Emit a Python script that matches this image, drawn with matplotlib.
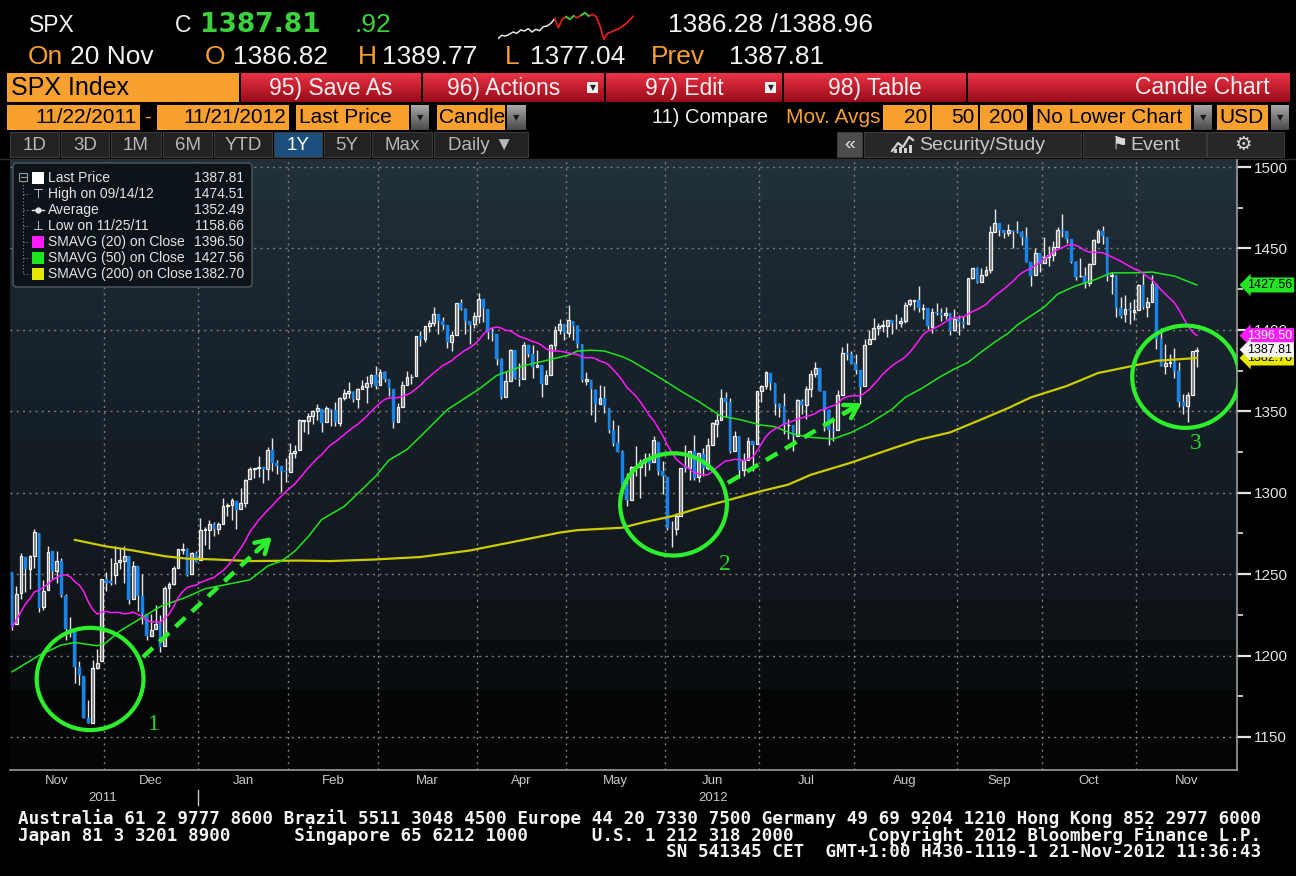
#!/usr/bin/env python3
# -*- coding: utf-8 -*-
"""
SPX Index daily candle chart (11/2011 - 11/2012) with 20/50/200-day SMAs,
laid out like a Bloomberg GP screen. Saves out.png (1296x876).
"""

import numpy as np
import pandas as pd
import matplotlib
matplotlib.use("Agg")
import matplotlib.pyplot as plt
from matplotlib import font_manager
from matplotlib.colors import to_rgb
from matplotlib.patches import Rectangle, FancyBboxPatch, Ellipse

# ---------------------------------------------------------------------------
# SPX daily OHLC, 2011-11-01 .. 2012-11-20, one line per month
# ---------------------------------------------------------------------------
opens = [
    1251.0, 1219.6, 1238.2, 1260.8, 1253.2, 1261.1, 1275.2, 1229.6, 1240.1, 1263.9, 1251.7, 1257.8, 1236.6, 1216.2, 1215.6, 1193.0, 1187.5, 1161.4, 1158.7, 1192.6, 1196.7,
    1246.9, 1246.0, 1249.5, 1257.2, 1258.1, 1260.9, 1234.5, 1255.1, 1236.8, 1225.7, 1212.1, 1216.1, 1219.7, 1205.7, 1241.3, 1243.7, 1254.0, 1265.0, 1265.4, 1249.8, 1262.8,
    1258.9, 1277.0, 1277.3, 1280.9, 1277.8, 1280.8, 1292.0, 1292.5, 1294.8, 1290.2, 1293.7, 1308.1, 1314.5, 1315.3, 1315.9, 1314.4, 1326.3, 1318.3, 1316.2, 1313.5,
    1312.5, 1324.2, 1326.2, 1344.3, 1344.3, 1347.0, 1350.0, 1351.2, 1343.1, 1351.3, 1350.5, 1342.6, 1358.1, 1361.2, 1362.1, 1357.5, 1363.5, 1365.2, 1367.6, 1372.2,
    1365.9, 1374.1, 1369.6, 1363.6, 1343.4, 1352.7, 1366.0, 1370.8, 1371.9, 1396.0, 1394.2, 1402.6, 1404.2, 1409.6, 1405.5, 1402.9, 1392.8, 1397.1, 1416.6, 1412.5, 1405.4, 1403.3,
    1408.5, 1419.0, 1413.1, 1398.8, 1397.5, 1382.2, 1359.0, 1368.8, 1387.6, 1370.3, 1369.6, 1390.8, 1385.1, 1377.0, 1378.5, 1367.0, 1372.1, 1390.6, 1400.2, 1403.3,
    1397.9, 1405.5, 1402.3, 1391.5, 1368.8, 1369.2, 1363.2, 1354.7, 1358.1, 1351.9, 1338.4, 1330.8, 1324.8, 1305.1, 1295.7, 1316.1, 1316.0, 1318.7, 1320.8, 1318.9, 1331.3, 1313.1,
    1309.9, 1278.3, 1277.8, 1285.6, 1316.2, 1315.0, 1325.7, 1309.4, 1324.0, 1314.9, 1329.2, 1342.4, 1344.8, 1358.0, 1355.4, 1325.9, 1334.9, 1314.1, 1320.0, 1331.5, 1330.1,
    1362.3, 1365.8, 1373.7, 1367.1, 1354.7, 1353.0, 1341.4, 1341.3, 1334.8, 1356.5, 1353.7, 1363.6, 1373.0, 1376.5, 1362.3, 1350.5, 1338.4, 1338.2, 1360.1, 1385.9, 1385.3,
    1379.3, 1375.1, 1365.5, 1391.0, 1394.5, 1401.2, 1402.3, 1402.6, 1405.9, 1404.4, 1403.9, 1405.6, 1415.8, 1417.9, 1418.1, 1413.1, 1413.5, 1402.0, 1411.1, 1410.4, 1409.3, 1410.1, 1400.1,
    1406.5, 1404.9, 1403.7, 1432.1, 1437.9, 1429.1, 1433.6, 1436.6, 1460.1, 1465.4, 1461.2, 1459.5, 1461.0, 1460.3, 1459.8, 1456.9, 1441.6, 1433.4, 1447.1,
    1440.9, 1445.0, 1446.1, 1451.1, 1461.4, 1460.9, 1455.9, 1441.5, 1432.8, 1432.8, 1428.8, 1440.3, 1454.2, 1460.9, 1457.3, 1433.2, 1433.7, 1413.2, 1409.7, 1413.0, 1411.0,
    1412.2, 1427.6, 1414.0, 1417.3, 1428.3, 1394.5, 1377.6, 1379.9, 1380.0, 1374.6, 1355.4, 1353.4, 1359.9, 1386.82,
]
highs = [
    1251.0, 1242.5, 1263.2, 1260.8, 1261.7, 1277.6, 1275.2, 1246.2, 1267.0, 1263.9, 1264.3, 1259.6, 1237.7, 1223.5, 1215.6, 1196.8, 1187.5, 1172.7, 1197.4, 1203.7, 1247.1,
    1251.1, 1260.1, 1267.1, 1266.0, 1267.1, 1260.9, 1258.3, 1255.1, 1249.9, 1225.7, 1225.6, 1231.0, 1224.6, 1242.8, 1245.1, 1255.2, 1265.4, 1269.4, 1265.9, 1263.5, 1264.1,
    1284.6, 1278.7, 1283.1, 1281.8, 1282.0, 1296.5, 1293.8, 1296.8, 1294.8, 1303.0, 1308.1, 1315.5, 1315.4, 1322.3, 1315.9, 1328.3, 1333.5, 1320.1, 1316.2, 1321.4,
    1330.5, 1329.2, 1345.3, 1344.4, 1349.2, 1351.0, 1354.3, 1351.2, 1353.4, 1351.3, 1355.9, 1359.0, 1363.4, 1367.8, 1362.7, 1364.2, 1368.9, 1371.9, 1373.1, 1378.0,
    1376.2, 1374.5, 1369.6, 1363.6, 1354.9, 1368.7, 1374.8, 1373.0, 1396.1, 1399.4, 1402.6, 1405.9, 1414.0, 1409.6, 1407.8, 1402.9, 1399.2, 1416.6, 1419.2, 1413.7, 1405.4, 1410.9,
    1422.4, 1419.0, 1413.1, 1401.6, 1397.5, 1383.0, 1374.7, 1388.1, 1387.6, 1379.7, 1392.8, 1390.8, 1390.5, 1387.4, 1378.5, 1375.6, 1391.4, 1402.1, 1406.6, 1403.3,
    1415.3, 1405.5, 1403.1, 1391.5, 1373.9, 1369.2, 1363.7, 1365.9, 1365.7, 1351.9, 1344.9, 1341.8, 1326.4, 1312.2, 1316.4, 1328.5, 1320.7, 1324.1, 1324.2, 1334.9, 1331.3, 1319.7,
    1309.9, 1282.6, 1287.6, 1315.1, 1329.0, 1325.8, 1335.5, 1324.3, 1327.3, 1333.7, 1343.3, 1348.2, 1363.5, 1361.6, 1358.3, 1337.8, 1334.9, 1324.2, 1334.4, 1331.5, 1362.2,
    1366.4, 1374.8, 1373.8, 1367.1, 1354.9, 1361.5, 1345.0, 1341.3, 1357.7, 1357.3, 1365.4, 1375.3, 1380.4, 1376.5, 1362.3, 1351.5, 1344.0, 1363.1, 1389.2, 1391.7, 1387.2,
    1385.0, 1375.1, 1394.2, 1399.6, 1407.1, 1404.1, 1406.0, 1406.0, 1405.9, 1410.0, 1407.7, 1417.4, 1418.7, 1418.1, 1426.7, 1416.1, 1413.5, 1413.5, 1416.2, 1413.6, 1414.0, 1410.1, 1413.1,
    1409.3, 1408.8, 1432.1, 1437.9, 1438.7, 1437.8, 1439.2, 1463.8, 1474.51, 1465.6, 1461.5, 1465.1, 1461.2, 1467.1, 1460.7, 1463.2, 1441.6, 1450.2, 1447.1,
    1457.1, 1451.5, 1454.3, 1463.1, 1471.0, 1460.9, 1455.9, 1442.5, 1443.9, 1438.4, 1441.3, 1455.5, 1462.2, 1464.0, 1457.3, 1435.5, 1433.7, 1420.0, 1421.1, 1417.1, 1418.8,
    1428.4, 1434.3, 1419.9, 1433.4, 1428.3, 1401.2, 1391.4, 1384.9, 1388.8, 1380.1, 1360.6, 1362.0, 1386.9, 1389.77,
]
lows = [
    1215.4, 1219.6, 1234.8, 1238.9, 1240.8, 1254.0, 1226.6, 1227.7, 1240.1, 1246.7, 1244.3, 1235.7, 1209.4, 1211.4, 1183.2, 1181.7, 1161.8, 1158.66, 1158.7, 1191.8, 1196.7,
    1239.7, 1243.4, 1244.0, 1253.0, 1244.8, 1231.5, 1234.5, 1227.3, 1219.4, 1209.5, 1212.1, 1216.1, 1202.4, 1205.7, 1229.5, 1243.1, 1254.0, 1262.3, 1248.6, 1249.8, 1257.5,
    1258.9, 1268.1, 1265.3, 1273.3, 1274.6, 1280.8, 1285.4, 1283.0, 1277.6, 1290.2, 1291.0, 1308.1, 1309.2, 1309.9, 1306.1, 1307.7, 1313.6, 1311.7, 1300.5, 1306.7,
    1312.5, 1321.6, 1326.2, 1337.5, 1335.9, 1341.9, 1344.6, 1337.4, 1343.1, 1340.8, 1340.8, 1341.2, 1357.2, 1358.1, 1355.5, 1352.3, 1363.5, 1354.9, 1365.0, 1363.8,
    1365.9, 1368.0, 1359.1, 1340.0, 1343.4, 1352.7, 1366.0, 1366.7, 1371.9, 1390.0, 1392.8, 1398.8, 1402.4, 1397.7, 1400.6, 1388.7, 1386.9, 1397.1, 1412.0, 1397.2, 1391.6, 1401.4,
    1404.5, 1404.6, 1394.1, 1392.9, 1378.2, 1357.4, 1359.0, 1368.8, 1369.9, 1365.4, 1369.6, 1383.3, 1370.3, 1377.0, 1358.8, 1366.8, 1372.1, 1387.4, 1397.7, 1394.0,
    1395.7, 1393.9, 1388.7, 1368.0, 1365.9, 1347.8, 1343.1, 1354.7, 1348.9, 1336.6, 1328.5, 1324.8, 1304.9, 1292.0, 1295.7, 1310.0, 1296.5, 1310.5, 1314.2, 1318.9, 1310.8, 1298.9,
    1277.3, 1266.7, 1274.2, 1285.6, 1312.7, 1307.8, 1307.7, 1306.6, 1310.5, 1314.1, 1329.2, 1334.5, 1344.8, 1346.5, 1324.4, 1325.9, 1309.3, 1310.3, 1320.0, 1313.3, 1330.1,
    1355.7, 1363.5, 1363.0, 1348.0, 1346.7, 1336.3, 1333.2, 1325.4, 1334.8, 1348.5, 1345.1, 1358.6, 1371.2, 1362.2, 1337.6, 1329.2, 1331.5, 1338.2, 1360.1, 1381.4, 1379.2,
    1373.1, 1354.7, 1365.5, 1391.0, 1394.5, 1396.6, 1398.8, 1395.6, 1397.3, 1400.6, 1401.8, 1404.2, 1414.7, 1412.1, 1410.9, 1406.8, 1400.5, 1398.0, 1409.1, 1405.6, 1406.6, 1397.0, 1399.0,
    1396.6, 1401.3, 1403.7, 1431.5, 1429.0, 1429.1, 1433.0, 1434.9, 1460.1, 1457.6, 1456.1, 1457.9, 1450.0, 1459.5, 1452.1, 1441.6, 1427.2, 1433.4, 1435.6,
    1440.9, 1439.0, 1442.0, 1451.1, 1456.9, 1453.1, 1441.2, 1430.6, 1432.3, 1425.5, 1427.2, 1440.3, 1453.3, 1452.6, 1429.9, 1422.1, 1407.6, 1407.1, 1405.1, 1403.3, 1406.0,
    1412.2, 1412.9, 1408.1, 1417.3, 1388.1, 1377.5, 1373.0, 1377.2, 1370.3, 1352.5, 1348.1, 1343.35, 1359.9, 1377.04,
]
closes = [
    1218.28, 1237.90, 1261.15, 1253.23, 1261.12, 1275.92, 1229.10, 1239.70, 1263.85, 1251.78, 1257.81, 1236.91, 1216.13, 1215.65, 1192.98, 1188.04, 1161.79, 1158.67, 1192.55, 1195.19, 1246.96,
    1244.58, 1244.28, 1257.08, 1258.47, 1261.01, 1234.35, 1255.19, 1236.47, 1225.73, 1211.82, 1215.75, 1219.66, 1205.35, 1241.30, 1243.72, 1254.00, 1265.33, 1265.43, 1249.64, 1263.02, 1257.60,
    1277.06, 1277.30, 1281.06, 1277.81, 1280.70, 1292.08, 1292.48, 1295.50, 1289.09, 1293.67, 1308.04, 1314.50, 1315.38, 1316.00, 1314.65, 1326.06, 1318.43, 1316.33, 1313.01, 1312.41,
    1324.09, 1325.54, 1344.90, 1344.33, 1347.05, 1349.96, 1351.95, 1342.64, 1351.77, 1350.50, 1343.23, 1358.04, 1361.23, 1362.21, 1357.66, 1363.46, 1365.74, 1367.59, 1372.18, 1365.68,
    1374.09, 1369.63, 1364.33, 1343.36, 1352.63, 1365.91, 1370.87, 1371.09, 1395.95, 1394.28, 1402.60, 1404.17, 1409.75, 1405.52, 1402.89, 1392.78, 1397.11, 1416.51, 1412.52, 1405.54, 1403.28, 1408.47,
    1419.04, 1413.38, 1398.96, 1398.08, 1382.20, 1358.59, 1368.71, 1387.57, 1370.26, 1369.57, 1390.78, 1385.14, 1376.92, 1378.53, 1366.94, 1371.97, 1390.69, 1399.98, 1403.36, 1397.91,
    1405.82, 1402.31, 1391.57, 1369.10, 1369.58, 1363.72, 1354.58, 1357.99, 1353.39, 1338.35, 1330.66, 1324.80, 1304.86, 1295.22, 1315.99, 1316.63, 1318.86, 1320.68, 1317.82, 1332.42, 1313.32, 1310.33,
    1278.04, 1278.18, 1285.50, 1315.13, 1314.99, 1325.66, 1308.93, 1324.18, 1314.88, 1329.10, 1342.84, 1344.78, 1357.98, 1355.69, 1325.51, 1335.02, 1313.72, 1319.99, 1331.85, 1329.04, 1362.16,
    1365.51, 1374.02, 1367.58, 1354.68, 1352.46, 1341.47, 1341.45, 1334.76, 1356.78, 1353.64, 1363.67, 1372.78, 1376.51, 1362.66, 1350.52, 1338.31, 1337.89, 1360.02, 1385.97, 1385.30, 1379.32,
    1375.32, 1365.00, 1390.99, 1394.23, 1401.35, 1402.22, 1402.80, 1405.87, 1404.11, 1403.93, 1405.53, 1415.51, 1418.16, 1418.13, 1413.17, 1413.49, 1402.08, 1411.13, 1410.44, 1409.30, 1410.49, 1399.48, 1406.58,
    1404.94, 1403.44, 1432.12, 1437.92, 1429.08, 1433.56, 1436.56, 1459.99, 1465.77, 1461.19, 1459.32, 1461.05, 1460.26, 1460.15, 1456.89, 1441.59, 1433.32, 1447.15, 1440.67,
    1444.49, 1445.75, 1450.99, 1461.40, 1460.93, 1455.88, 1441.48, 1432.56, 1432.84, 1428.59, 1440.13, 1454.92, 1460.91, 1457.34, 1433.19, 1433.82, 1413.11, 1408.75, 1412.97, 1411.94, 1412.16,
    1427.59, 1414.20, 1417.26, 1428.39, 1394.53, 1377.51, 1379.85, 1380.03, 1374.53, 1355.49, 1353.33, 1359.88, 1386.89, 1387.81,
]
# closes 2011-10-05 .. 2011-10-31, only used to warm up the 20-day average
closes_before = [1144.03, 1164.97, 1155.46, 1194.89, 1195.54, 1207.25, 1203.66, 1224.58, 1200.86, 1225.38,
                 1209.88, 1215.39, 1238.25, 1254.19, 1229.05, 1242.00, 1284.59, 1285.09, 1253.30]

# exchange holidays in the range (no candle)
holidays = ["2011-11-24", "2011-12-26", "2012-01-02", "2012-01-16", "2012-02-20", "2012-04-06",
            "2012-05-28", "2012-07-04", "2012-09-03", "2012-10-29", "2012-10-30"]

# 50 / 200 day averages (trading-day index, value)
sma50_idx = [0, 6, 11, 14, 19, 21, 24, 30, 33, 39, 43, 53, 57, 60, 63, 66, 69, 74, 78, 81, 84, 88, 91, 97, 104,
             108, 114, 118, 124, 126, 129, 132, 136, 138, 145, 149, 153, 158, 162, 167, 170, 174, 178, 183, 187,
             191, 196, 199, 203, 207, 210, 213, 216, 219, 222, 224, 230, 233, 237, 241, 245, 250, 254, 259, 264]
sma50_val = [1190, 1200, 1206.5, 1208, 1206, 1208, 1215, 1225, 1230, 1236, 1241, 1246.5, 1255, 1258, 1264, 1273,
             1283.5, 1291.5, 1302, 1310, 1320, 1326.5, 1334.5, 1351, 1363.5, 1372, 1378, 1380.5, 1384.5, 1387,
             1387.5, 1387, 1383.5, 1381, 1369.5, 1362.5, 1356, 1347, 1345, 1341.5, 1340.5, 1336, 1334, 1333,
             1337, 1342.5, 1351, 1358.5, 1364.5, 1371.5, 1376, 1380, 1386.5, 1392.5, 1398, 1403, 1414, 1422,
             1427, 1430.5, 1435, 1435, 1435.5, 1433, 1427.56]
sma200_idx = [14, 21, 27, 34, 39, 45, 53, 64, 71, 81, 91, 102, 113, 122, 126, 136, 141, 147, 153, 159, 167, 173,
              178, 187, 196, 202, 209, 216, 222, 227, 235, 242, 250, 255, 264]
sma200_val = [1271, 1267, 1264.5, 1261, 1259.5, 1259, 1258, 1258.3, 1258, 1259, 1260.5, 1264.5, 1270.5, 1275.5,
              1277, 1278.5, 1282, 1285.5, 1290.5, 1295, 1301, 1305, 1311, 1318.5, 1327, 1332.5, 1337, 1345,
              1352, 1358.5, 1365.5, 1373.5, 1378, 1381, 1382.70]

# legend rows: (label, value)
legend_rows = [("Last Price", "1387.81"), ("High on 09/14/12", "1474.51"), ("Average", "1352.49"),
               ("Low on 11/25/11", "1158.66"), ("SMAVG (20) on Close", "1396.50"),
               ("SMAVG (50) on Close", "1427.56"), ("SMAVG (200) on Close", "1382.70")]

# last values shown as tags on the price axis
tag_values = [1382.70, 1396.50, 1387.81, 1427.56]

# annotations drawn by the user on the chart
circle_centers = [(17.4, 1185.6), (147.4, 1292.8), (261.5, 1371.2)]
circle_labels = ["1", "2", "3"]
label_points = [(31.6, 1157.4), (158.9, 1255.6), (263.8, 1330.5)]
arrow_segments = [((29.2, 1199.1), (57.9, 1272.8)), ((159.5, 1306.0), (189.3, 1355.1))]

# intraday sparkline in the header (relative heights)
spark_vals = [7, 17, 15, 20, 27, 23, 33, 30, 37, 27, 35, 31, 43, 45, 53, 67,
              40, 65, 73, 65, 75, 70, 77, 85, 75, 80, 73, 45, 5, 23, 27, 33, 37, 45, 53, 65, 75]

footer_lines = [
    "Australia 61 2 9777 8600 Brazil 5511 3048 4500 Europe 44 20 7330 7500 Germany 49 69 9204 1210 Hong Kong 852 2977 6000",
    "Japan 81 3 3201 8900      Singapore 65 6212 1000      U.S. 1 212 318 2000       Copyright 2012 Bloomberg Finance L.P.",
    "                                                             SN 541345 CET  GMT+1:00 H430-1119-1 21-Nov-2012 11:36:43",
]

# ---------------------------------------------------------------------------
# fonts / colours
# ---------------------------------------------------------------------------
_names = {f.name for f in font_manager.fontManager.ttflist}
SANS = "Liberation Sans" if "Liberation Sans" in _names else "DejaVu Sans"
SERIF = "Liberation Serif" if "Liberation Serif" in _names else "DejaVu Serif"
MONO = "DejaVu Sans Mono"
plt.rcParams["font.family"] = [SANS, "DejaVu Sans"]

WHITE = "#f2f2f2"
ORANGE = "#f7a030"
GREEN_TXT = "#3cd23c"
BLUE = "#1485ee"
MARK = "#2cf02c"

W, H = 1296, 876
n = len(closes)
assert len(opens) == n and len(highs) == n and len(lows) == n, (len(opens), len(highs), len(lows), n)

dates = pd.bdate_range("2011-11-01", "2012-11-20")
dates = dates[~dates.isin(pd.to_datetime(holidays))]
assert len(dates) == n, (len(dates), n)

fig = plt.figure(figsize=(W / 100, H / 100), dpi=100, facecolor="black")

# ---- full-figure layer in pixel coordinates (header / footer) ----
bg = fig.add_axes([0, 0, 1, 1], zorder=0)
bg.axis("off")
bg.patch.set_visible(False)


def box(a, x0, y0, x1, y1, fc, ec="none", lw=0.0, z=1):
    a.add_patch(Rectangle((x0, y0), x1 - x0, y1 - y0, fc=fc, ec=ec, lw=lw, zorder=z))


def grad_box(a, x0, y0, x1, y1, top, bottom, z=1):
    c0, c1 = np.array(to_rgb(top)), np.array(to_rgb(bottom))
    t = np.linspace(0, 1, 40)[:, None, None]
    a.imshow(c0 + (c1 - c0) * t, extent=(x0, x1, y1, y0), aspect="auto", zorder=z,
             interpolation="bilinear")


def txt(a, x, y, s, color=WHITE, size=12, ha="left", **kw):
    a.text(x, y, s, color=color, fontsize=size, ha=ha, va="center", zorder=5, **kw)


# row 1 / row 2: quote
txt(bg, 29, 25, "SPX", size=16.5)
txt(bg, 175, 25, "C", size=16.5)
txt(bg, 200, 25, "1387.81", color=GREEN_TXT, size=19, weight="bold", family="DejaVu Sans")
txt(bg, 355, 25, ".92", color=GREEN_TXT, size=19)
txt(bg, 668, 25, "1386.28 /1388.96", size=19)
for x, s, col in [(28, "On", ORANGE), (70, "20 Nov", WHITE), (205, "O", ORANGE), (233, "1386.82", WHITE),
                  (358, "H", ORANGE), (382, "1389.77", WHITE), (505, "L", ORANGE), (530, "1377.04", WHITE),
                  (651, "Prev", ORANGE), (729, "1387.81", WHITE)]:
    txt(bg, x, 57, s, color=col, size=19)

# row 3: security box + red function buttons
box(bg, 7, 73, 239, 102, ORANGE)
txt(bg, 11, 88, "SPX Index", color="black", size=18)
red_buttons = [(241, 421, "95) Save As", False), (423, 604, "96) Actions", True),
               (606, 782, "97) Edit", True), (784, 966, "98) Table", False)]
for x0, x1, s, dd in red_buttons:
    grad_box(bg, x0, 73, x1, 102, "#ea3446", "#9a0a18")
    cx = (x0 + x1) / 2 - (10 if dd else 0)
    txt(bg, cx, 88, s, size=16.5, ha="center")
    if dd:
        box(bg, x1 - 17, 82, x1 - 6, 93, "#f0f0f0", z=3)
        txt(bg, x1 - 11.5, 88, "▼", color="#222222", size=5.5, ha="center", family="DejaVu Sans")
grad_box(bg, 968, 73, 1290, 102, "#ea3446", "#9a0a18")
txt(bg, 1270, 88, "Candle Chart", size=16.5, ha="right")


def gray_drop(x0, x1, y0=105, y1=130):
    grad_box(bg, x0, y0, x1, y1, "#a8a8a8", "#4a4a4a", z=2)
    txt(bg, (x0 + x1) / 2, (y0 + y1) / 2, "▼", color="#1a1a1a", size=6, ha="center", family="DejaVu Sans")


# row 4: range / chart settings
box(bg, 7, 105, 140, 130, ORANGE)
txt(bg, 137, 117.5, "11/22/2011", color="black", size=15, ha="right")
txt(bg, 144, 117.5, "-", color=ORANGE, size=15)
box(bg, 157, 105, 289, 130, ORANGE)
txt(bg, 286, 117.5, "11/21/2012", color="black", size=15, ha="right")
box(bg, 296, 105, 409, 130, ORANGE)
txt(bg, 299, 117.5, "Last Price", color="black", size=15)
gray_drop(411, 429)
box(bg, 437, 105, 505, 130, ORANGE)
txt(bg, 439, 117.5, "Candle", color="black", size=15)
gray_drop(507, 526)
txt(bg, 652, 117.5, "11) Compare", size=14.5)
txt(bg, 786, 117.5, "Mov. Avgs", color=ORANGE, size=15)
for x0, x1, s in [(883, 930, "20"), (932, 978, "50"), (980, 1027, "200")]:
    box(bg, x0, 105, x1, 130, ORANGE)
    txt(bg, x1 - 3, 117.5, s, color="black", size=15, ha="right")
box(bg, 1033, 105, 1191, 130, ORANGE)
txt(bg, 1036, 117.5, "No Lower Chart", color="black", size=15)
gray_drop(1194, 1212)
box(bg, 1217, 105, 1268, 130, ORANGE)
txt(bg, 1219, 117.5, "USD", color="black", size=15)
gray_drop(1271, 1289)

# row 5: period buttons
tabs = [(10, 59, "1D"), (61, 109, "3D"), (111, 161, "1M"), (163, 212, "6M"), (214, 272, "YTD"),
        (274, 322, "1Y"), (324, 370, "5Y"), (372, 432, "Max"), (434, 528, "Daily ▼")]
for x0, x1, s in tabs:
    sel = s == "1Y"
    box(bg, x0, 132, x1, 157, "#1d4f7c" if sel else "#222222", ec="#3a3a3a", lw=0.8)
    txt(bg, (x0 + x1) / 2, 145, s, color="#ffffff" if sel else "#b8b8b8", size=13.5, ha="center")
box(bg, 837, 132, 862, 157, "#4d4d4d", ec="#3a3a3a", lw=0.8)
txt(bg, 849.5, 144, "«", color="#e8e8e8", size=14, ha="center")
for x0, x1 in [(864, 1081), (1083, 1206), (1207, 1284)]:
    box(bg, x0, 132, x1, 157, "#272727", ec="#3a3a3a", lw=0.8)
bg.plot([892, 898, 903, 909, 913], [151, 143, 147, 137, 140], color="#d0d0d0", lw=1.6, zorder=4)
for bx, bh in [(894, 4), (899, 6), (904, 5), (909, 8)]:
    box(bg, bx, 153 - bh, bx + 3, 153, "#d0d0d0", z=4)
txt(bg, 919, 145, "Security/Study", color="#c8c8c8", size=14)
txt(bg, 1112, 144, "⚑", color="#d8d8d8", size=13, family="DejaVu Sans")
txt(bg, 1130, 145, "Event", color="#c8c8c8", size=14)
txt(bg, 1243, 144, "⚙", color="#d8d8d8", size=14, ha="center", family="DejaVu Sans")
bg.plot([0, W], [158.5, 158.5], color="#2e2e2e", lw=1, zorder=2)

# footer
for i, line in enumerate(footer_lines):
    bg.text(18, 819 + 16.5 * i, line, color=WHITE, fontsize=12.7, family=MONO, weight="bold",
            va="center", ha="left")

bg.set_xlim(0, W)
bg.set_ylim(H, 0)

# ---- header sparkline ----
sp = fig.add_axes([498 / W, 1 - 41 / H, 136 / W, 30 / H], zorder=1)
sp.axis("off")
sp.patch.set_visible(False)
sx = np.arange(len(spark_vals))
sp.plot(sx[:16], spark_vals[:16], color="#e6e6e6", lw=1.1)
sp.plot(sx[15:], spark_vals[15:], color="#e02020", lw=1.3)
sp.plot(sx[18:21], spark_vals[18:21], color="#30d030", lw=1.3)
sp.plot(sx[22:25], spark_vals[22:25], color="#30d030", lw=1.3)
sp.set_xlim(0, len(spark_vals) - 1)
sp.set_ylim(0, 90)

# ---------------------------------------------------------------------------
# price chart
# ---------------------------------------------------------------------------
ax = fig.add_axes([10 / W, (H - 770) / H, 1227 / W, 610 / H], zorder=2)
XMIN, XMAX = -0.446, 272.95
YMIN, YMAX = 1129.7, 1504.3

# banded dark background
band_edges = [160, 200, 240, 280, 320, 360, 400, 440, 480, 520, 560, 600, 640, 690, 770]
band_cols = ["#212f38", "#1e2b34", "#1c2831", "#1a262e", "#18232b", "#172129", "#151f27", "#141d24",
             "#131b21", "#12191f", "#10161b", "#0e1317", "#0a0d10", "#040505"]
rows = np.zeros((770 - 160, 1, 3))
for (a0, a1), col in zip(zip(band_edges[:-1], band_edges[1:]), band_cols):
    rows[a0 - 160:a1 - 160, 0, :] = to_rgb(col)
ax.imshow(rows, extent=(XMIN, XMAX, YMIN, YMAX), aspect="auto", zorder=0, interpolation="nearest")

# grid
month_start = np.flatnonzero(np.r_[True, np.asarray(dates.month)[1:] != np.asarray(dates.month)[:-1]])
bounds = month_start[1:] - 0.5
for y in range(1150, 1501, 50):
    ax.axhline(y, color="#7c7c7c", lw=1.0, ls=(0, (1.5, 3)), zorder=1)
for b in bounds:
    ax.axvline(b, color="#7c7c7c", lw=1.0, ls=(0, (1.5, 3)), zorder=1)

# candles
x = np.arange(n)
o, h, l, c = (np.array(v, dtype=float) for v in (opens, highs, lows, closes))
up = c >= o
ax.vlines(x, l, h, color="#e8e8e8", lw=1.0, zorder=3)
body_lo = np.minimum(o, c)
body_h = np.maximum(np.abs(c - o), 0.4)
ax.bar(x[up], body_h[up], bottom=body_lo[up], width=0.62, color="#7c7c7c", edgecolor="#f0f0f0",
       linewidth=0.9, zorder=4)
ax.bar(x[~up], body_h[~up], bottom=body_lo[~up], width=0.62, color=BLUE, edgecolor=BLUE,
       linewidth=0.3, zorder=4)

# moving averages
sma20 = pd.Series(closes_before + closes).rolling(20).mean().to_numpy()[len(closes_before):]
ax.plot(sma200_idx, sma200_val, color="#cccc00", lw=1.6, zorder=5)
ax.plot(sma50_idx, sma50_val, color="#1ee61e", lw=1.1, zorder=5)
ax.plot(x, sma20, color="#ff1aff", lw=1.1, zorder=5)

# hand-drawn marks
for (cx, cy) in circle_centers:
    ax.add_patch(Ellipse((cx, cy), 23.8, 62.8, fill=False, ec=MARK, lw=3.0, zorder=6))
for (lx, ly), s in zip(label_points, circle_labels):
    ax.text(lx, ly, s, color="#2bd42b", fontsize=17, family=SERIF, ha="center", va="center", zorder=6)
for (x0, y0), (x1, y1) in arrow_segments:
    ax.plot([x0, x1 - 0.06 * (x1 - x0)], [y0, y1 - 0.06 * (y1 - y0)], color=MARK, lw=3.2,
            dashes=(3, 2), solid_capstyle="butt", zorder=6)
    ax.annotate("", xy=(x1, y1), xytext=(x1 - 0.12 * (x1 - x0), y1 - 0.12 * (y1 - y0)),
                arrowprops=dict(arrowstyle="->,head_length=0.9,head_width=0.55", color=MARK, lw=3.2,
                                shrinkA=0, shrinkB=0), zorder=6)

ax.set_xlim(XMIN, XMAX)
ax.set_ylim(YMIN, YMAX)

# axes decoration
for side in ("left", "top"):
    ax.spines[side].set_visible(False)
for side in ("right", "bottom"):
    ax.spines[side].set_color("#9c9c9c")
    ax.spines[side].set_linewidth(1.2)
ax.set_xticks([])
ax.yaxis.tick_right()
ax.set_yticks(np.arange(1150, 1501, 50))
ax.set_yticks(np.arange(1175, 1500, 50), minor=True)
ax.tick_params(axis="y", which="major", direction="out", length=10, width=1.6, colors="#e2e2e2",
               labelsize=11, pad=2, labelfontfamily=SANS)
ax.tick_params(axis="y", which="minor", direction="out", length=4, width=1.2, colors="#e2e2e2")

# month / year labels under the axis
xt = ax.get_xaxis_transform()
edges = [XMIN] + list(bounds) + [XMAX]
for i, ms in enumerate(month_start):
    ax.text((edges[i] + edges[i + 1]) / 2, -0.018, dates[ms].strftime("%b"), transform=xt,
            color="#c8c8c8", fontsize=9.5, ha="center", va="center", clip_on=False)
ax.text(20.3, -0.046, "2011", transform=xt, color="#c8c8c8", fontsize=9.5, ha="center", va="center")
ax.text(156.2, -0.046, "2012", transform=xt, color="#c8c8c8", fontsize=9.5, ha="center", va="center")
ax.plot([bounds[1], bounds[1]], [-0.032, -0.058], transform=xt, color="#c8c8c8", lw=1, clip_on=False)

# value tags on the price axis
tag_style = {1382.70: ("#e6e600", "black"), 1396.50: ("#ff1aff", "white"),
             1387.81: ("#f4f4f4", "black"), 1427.56: ("#22e622", "black")}
yt = ax.get_yaxis_transform()
for v in tag_values:
    fc, tc = tag_style[v]
    ax.annotate(f"{v:.2f}", xy=(1, v), xycoords=yt, xytext=(7.5, 0), textcoords="offset points",
                color=tc, fontsize=9, ha="left", va="center", annotation_clip=False, zorder=10,
                bbox=dict(boxstyle="larrow,pad=0.12", fc=fc, ec="none"))

# ---- legend panel (pixel layer above the chart) ----
top = fig.add_axes([0, 0, 1, 1], zorder=5)
top.axis("off")
top.patch.set_visible(False)
top.add_patch(FancyBboxPatch((13, 163), 239, 124, boxstyle="round,pad=0,rounding_size=4",
                             fc="#0d1419", ec="#4f585f", lw=1))
ys = [178, 194, 210, 226, 242, 258, 274]
top.plot([23, 23], [181, 274], color="#8a8a8a", lw=0.8, ls=(0, (1, 2)))
for yy in ys[1:]:
    top.plot([23, 30], [yy, yy], color="#8a8a8a", lw=0.8, ls=(0, (1, 2)))
top.add_patch(Rectangle((19, 173), 8, 8, fc="none", ec="#9a9a9a", lw=0.8))
top.plot([20.5, 25.5], [177, 177], color="#9a9a9a", lw=0.8)
swatch = {0: "#ffffff", 4: "#ff1aff", 5: "#1ee61e", 6: "#e6e600"}
for i, ((lab, val), yy) in enumerate(zip(legend_rows, ys)):
    if i in swatch:
        top.add_patch(Rectangle((32, yy - 6), 12, 12, fc=swatch[i], ec="none"))
    txt(top, 48, yy, lab, color="#e4e4e4", size=10)
    txt(top, 244, yy, val, color="#e4e4e4", size=10, ha="right")
txt(top, 38, 194, "⊤", color="#e4e4e4", size=9, ha="center", family="DejaVu Sans")
top.plot([32, 44], [210, 210], color="#e4e4e4", lw=1)
top.plot([38], [210], marker="o", ms=3.5, color="#e4e4e4")
txt(top, 38, 226, "⊥", color="#e4e4e4", size=9, ha="center", family="DejaVu Sans")
top.set_xlim(0, W)
top.set_ylim(H, 0)

fig.savefig("out.png", dpi=100, facecolor="black")
